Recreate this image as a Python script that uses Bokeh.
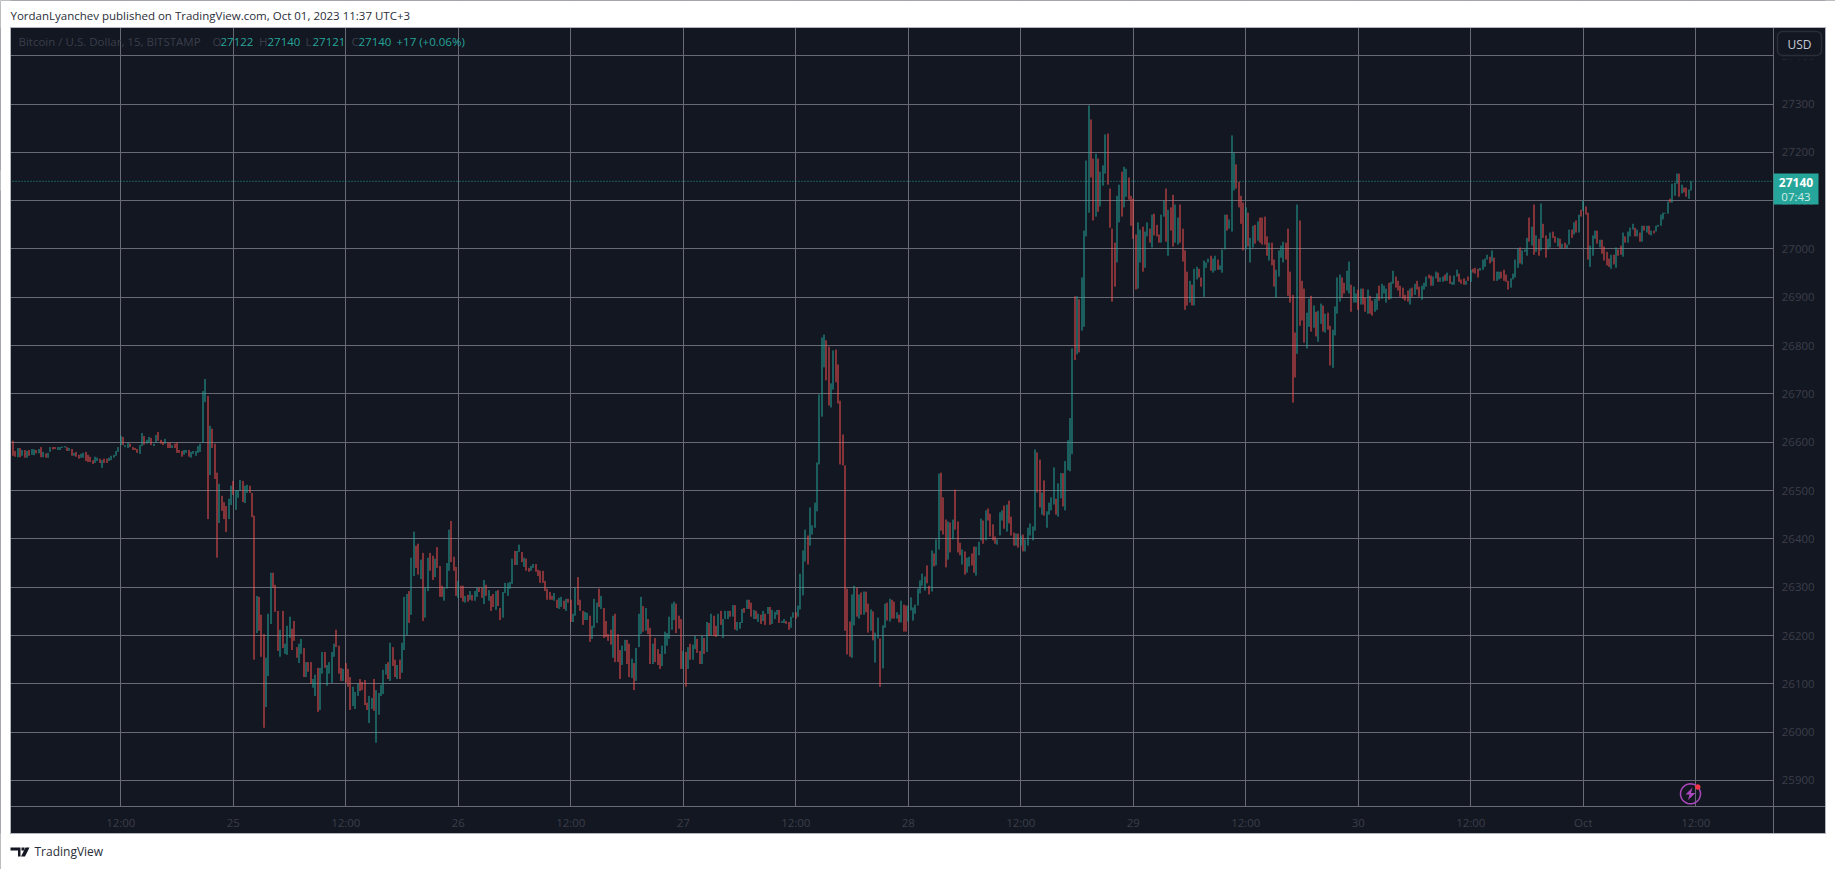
import numpy as np
from bokeh.embed import file_html
from bokeh.models import (BoxAnnotation, ColumnDataSource, FixedTicker, Label, LinearAxis,
                          PolyAnnotation, Range1d, Span)
from bokeh.plotting import figure
from bokeh.resources import INLINE

# Bitcoin / U.S. Dollar, 15 min, BITSTAMP
first_bar_hour = -23.5   # hours from 25 Sep 00:00
bar_hours = 0.25

highs = [
26603,26582,26588,26588,26584,26584,26582,26584,26586,26585,
26584,26586,26590,26580,26577,26578,26590,26590,26590,26590,
26590,26591,26592,26590,26588,26586,26578,26580,26574,26576,
26578,26580,26574,26570,26563,26570,26568,26566,26563,26566,
26566,26568,26572,26574,26582,26590,26613,26611,26594,26599,
26597,26590,26588,26586,26594,26619,26613,26605,26611,26609,
26597,26615,26621,26605,26601,26607,26599,26599,26594,26597,
26599,26584,26582,26584,26584,26584,26580,26582,26582,26592,
26597,26706,26731,26696,26634,26628,26597,26537,26514,26489,
26476,26468,26483,26510,26520,26501,26501,26522,26520,26510,
26512,26510,26495,26448,26282,26280,26243,26203,26154,26245,
26330,26330,26305,26251,26212,26251,26183,26220,26239,26214,
26230,26176,26183,26193,26174,26145,26145,26145,26110,26119,
26133,26133,26166,26166,26139,26145,26166,26183,26212,26179,
26133,26131,26143,26131,26114,26094,26083,26100,26110,26104,
26108,26061,26075,26071,26110,26087,26081,26098,26129,26141,
26145,26185,26176,26150,26139,26150,26185,26280,26286,26292,
26361,26415,26386,26390,26357,26371,26299,26361,26371,26365,
26359,26383,26344,26303,26299,26350,26419,26437,26363,26342,
26313,26303,26303,26282,26284,26292,26284,26292,26299,26299,
26299,26315,26305,26294,26282,26286,26292,26294,26257,26290,
26309,26309,26311,26359,26375,26375,26388,26373,26361,26359,
26340,26344,26348,26348,26336,26334,26334,26313,26297,26290,
26282,26288,26274,26278,26280,26272,26276,26276,26274,26245,
26299,26321,26274,26251,26249,26247,26241,26220,26276,26268,
26297,26282,26257,26230,26203,26212,26241,26245,26203,26170,
26179,26191,26191,26183,26152,26143,26174,26245,26280,26261,
26257,26234,26216,26183,26195,26172,26162,26179,26208,26205,
26239,26266,26270,26266,26241,26234,26168,26166,26176,26183,
26181,26199,26193,26168,26199,26195,26228,26226,26245,26241,
26220,26245,26251,26234,26251,26251,26251,26263,26263,26228,
26228,26255,26257,26274,26274,26268,26253,26251,26245,26243,
26251,26245,26259,26259,26253,26249,26253,26253,26230,26234,
26230,26228,26239,26248,26248,26262,26328,26376,26419,26407,
26465,26428,26475,26558,26699,26817,26823,26811,26798,26722,
26790,26792,26761,26686,26616,26552,26297,26229,26285,26303,
26299,26285,26289,26291,26291,26266,26254,26250,26206,26237,
26194,26221,26266,26268,26276,26274,26270,26248,26243,26272,
26264,26262,26262,26279,26258,26264,26297,26314,26328,26322,
26345,26303,26376,26370,26399,26535,26537,26486,26440,26436,
26434,26440,26502,26436,26392,26378,26374,26361,26363,26370,
26384,26384,26394,26442,26438,26459,26463,26452,26430,26405,
26399,26455,26459,26469,26471,26479,26446,26413,26411,26411,
26407,26409,26399,26423,26432,26426,26585,26579,26564,26496,
26521,26457,26475,26486,26548,26483,26515,26536,26536,26561,
26604,26650,26794,26902,26902,26896,26941,27038,27183,27297,
27268,27187,27197,27187,27160,27173,27237,27239,27125,27042,
27013,27110,27133,27160,27170,27166,27148,27110,27104,27030,
27055,27040,27046,27036,27055,27042,27071,27073,27050,27030,
27071,27100,27125,27081,27086,27112,27092,27065,27092,27042,
26997,26953,26934,26926,26959,26963,26959,26941,26976,26972,
26980,26986,26980,26986,26978,26966,26999,27071,27071,27061,
27235,27199,27175,27139,27110,27096,27086,27075,27023,27048,
27050,27057,27065,27065,27067,27026,27013,27013,26978,26957,
26997,27007,27015,27013,27042,26953,26905,26827,27092,27059,
26934,26918,26868,26897,26903,26883,26870,26872,26887,26883,
26866,26868,26841,26833,26881,26941,26947,26941,26930,26955,
26974,26926,26922,26908,26916,26918,26918,26899,26916,26903,
26893,26897,26908,26924,26928,26924,26918,26930,26932,26955,
26943,26934,26924,26920,26905,26914,26918,26920,26928,26934,
26922,26924,26930,26943,26947,26945,26943,26953,26951,26941,
26943,26947,26951,26945,26932,26945,26957,26949,26937,26939,
26934,26943,26957,26959,26961,26959,26961,26978,26980,26988,
26984,26997,26982,26953,26953,26953,26957,26947,26934,26939,
26949,26978,27001,27003,26997,26999,27023,27065,27046,27092,
27028,27021,27094,27052,27028,27021,27034,27036,27026,27023,
27021,27011,27013,27009,27040,27040,27055,27059,27071,27081,
27100,27088,27075,27007,27028,27038,27038,27019,27019,27005,
26994,26980,26988,26988,27003,26999,27007,27034,27026,27036,
27044,27052,27044,27040,27034,27048,27048,27048,27048,27038,
27038,27048,27050,27071,27075,27075,27098,27104,27135,27137,
27156,27156,27133,27127,27127,27123,27140,
]

lows = [
26572,26570,26569,26569,26572,26568,26568,26572,26574,26573,
26577,26577,26569,26569,26568,26568,26580,26585,26586,26584,
26584,26588,26589,26582,26582,26572,26572,26570,26566,26568,
26568,26561,26559,26559,26555,26557,26561,26557,26547,26557,
26557,26561,26563,26568,26572,26580,26594,26594,26590,26588,
26590,26584,26584,26578,26576,26592,26595,26597,26599,26594,
26592,26599,26603,26597,26594,26597,26588,26588,26588,26588,
26578,26578,26570,26574,26578,26570,26568,26576,26572,26578,
26580,26599,26683,26441,26532,26588,26524,26361,26433,26458,
26441,26414,26441,26470,26491,26460,26485,26501,26476,26474,
26495,26495,26445,26150,26205,26210,26156,26009,26052,26116,
26224,26299,26249,26168,26156,26174,26162,26160,26195,26170,
26189,26154,26143,26162,26114,26114,26125,26100,26092,26075,
26042,26046,26121,26133,26096,26121,26102,26156,26176,26121,
26106,26106,26102,26094,26046,26054,26048,26075,26085,26087,
26056,26046,26019,26048,26044,25978,26036,26075,26079,26119,
26110,26106,26137,26114,26110,26110,26123,26170,26201,26226,
26243,26323,26340,26326,26317,26230,26237,26292,26334,26315,
26321,26340,26280,26280,26272,26297,26334,26352,26334,26282,
26278,26278,26270,26268,26270,26274,26272,26272,26280,26290,
26278,26265,26282,26272,26251,26259,26253,26261,26232,26237,
26288,26282,26297,26307,26346,26346,26373,26352,26342,26334,
26332,26334,26340,26332,26323,26309,26309,26292,26274,26274,
26274,26272,26257,26255,26259,26255,26251,26268,26228,26228,
26241,26263,26251,26222,26232,26232,26187,26193,26216,26226,
26259,26255,26195,26197,26189,26181,26154,26145,26145,26110,
26139,26168,26141,26114,26112,26087,26106,26176,26203,26208,
26210,26203,26141,26141,26145,26139,26131,26137,26162,26179,
26193,26212,26232,26205,26214,26131,26131,26094,26131,26150,
26150,26172,26164,26141,26141,26162,26166,26199,26201,26199,
26197,26199,26222,26195,26234,26234,26239,26239,26212,26210,
26214,26226,26247,26255,26255,26239,26234,26234,26228,26224,
26230,26222,26245,26222,26224,26234,26243,26226,26226,26226,
26224,26212,26216,26237,26235,26239,26254,26283,26353,26347,
26386,26409,26423,26457,26554,26653,26755,26728,26676,26672,
26709,26724,26680,26554,26552,26210,26161,26156,26154,26221,
26239,26235,26243,26243,26248,26206,26210,26190,26144,26194,
26094,26132,26216,26231,26229,26235,26235,26235,26227,26227,
26208,26208,26229,26252,26231,26245,26262,26287,26303,26293,
26308,26285,26291,26343,26345,26378,26417,26409,26341,26357,
26372,26399,26419,26372,26366,26347,26326,26330,26343,26345,
26330,26324,26366,26397,26390,26397,26438,26405,26397,26390,
26388,26407,26438,26421,26415,26432,26407,26386,26386,26382,
26386,26374,26374,26386,26407,26397,26417,26496,26465,26450,
26448,26423,26450,26459,26471,26450,26446,26484,26467,26459,
26542,26540,26575,26770,26782,26786,26831,26839,27026,27075,
27148,27059,27067,27077,27088,27131,27156,27133,27044,26891,
26922,26972,27055,27067,27086,27108,27102,27048,27021,26916,
26918,26972,26953,26961,27026,27013,27003,27028,27026,27013,
27013,27067,27015,26986,27038,27005,27013,27009,27013,26974,
26874,26883,26889,26883,26883,26937,26941,26922,26901,26961,
26972,26955,26951,26955,26957,26957,26951,26999,27038,27042,
27036,27121,27125,27086,27052,26997,26999,27005,26972,27003,
27011,27017,27013,27009,27009,26986,26976,26966,26922,26899,
26943,26982,26972,26978,26903,26889,26682,26734,26783,26841,
26852,26806,26794,26839,26829,26837,26819,26808,26845,26829,
26827,26833,26759,26754,26821,26866,26891,26899,26908,26914,
26908,26870,26889,26889,26874,26885,26885,26870,26866,26866,
26862,26870,26874,26893,26897,26908,26889,26895,26897,26928,
26920,26914,26901,26897,26893,26891,26885,26901,26905,26916,
26901,26895,26916,26922,26939,26924,26924,26939,26932,26932,
26932,26934,26934,26928,26926,26926,26943,26932,26928,26926,
26926,26934,26932,26951,26949,26941,26955,26957,26963,26978,
26970,26974,26934,26934,26937,26939,26934,26932,26916,26920,
26937,26941,26961,26970,26968,26994,26986,27015,27007,26988,
26994,26986,26997,27023,26982,26999,27003,27023,27013,27005,
27001,27001,27001,27001,27009,27023,27030,27034,27034,27067,
27079,27071,26978,26963,26986,27021,27011,27003,26990,26976,
26966,26963,26959,26968,26961,26986,26988,26984,27013,27013,
27026,27040,27026,27026,27015,27015,27038,27034,27030,27028,
27032,27036,27046,27048,27061,27073,27073,27096,27096,27110,
27135,27108,27115,27117,27108,27104,27121,
]

# R = down bar, G = up bar
bar_dir = (
"RRGRGRGRGG" "RGRGRGGRRG" "GGGRGRGRRG" "GRRRRGGRGR" "RGGGGGGRGG"
"RRRRGGRGGR" "GGRRRGRRGR" "RRRGGRGGGG" "GGGRGRRRGR" "RRGGRGGGRG"
"GRRRGRRRGG" "GRRRGRGGGR" "RRGGRGRRGG" "RGGRGGGGRR" "RGRRRGGGRR"
"RRGGRGGGGG" "RGRRGRGGGR" "GGRRGRGGRR" "GRRRGGGRRR" "GRRGRGRGGR"
"RGRGRRGRRG" "GGGGRGGRGR" "RGGRRRRRRR" "RGRGGRGRRG" "GRRRGGRGGG"
"RGRRRRGRRR" "GGRRGRGGGR" "GRRGRRRGGG" "GGGRRRGRGR" "GGRRGRGRGR"
"RGRGGGRGRG" "GGRGRRGRGR" "GRGRGGGRGG" "RRGGRGGGGR" "GGGGGGGRRG"
"GRRRRRRRGG" "RGRGRRGRGG" "RGGRGRRGRG" "RRGGGGGGGG" "RRGRGGRRRG"
"RGRRRGRGGR" "RGGGRGRRRR" "GGGRGRRRGR" "GRGGGGGRRG" "RGGGGRGGRG"
"GGGRGRGGGG" "RRGRGGGRRR" "RGGRGGRRRR" "GGRGGRGRRR" "GGRGRRGGRR"
"RRGRGGRRGG" "GRGGRGGGRG" "GGRRRRGRGG" "RGRRRRGRRG" "GGGRRRRRGR"
"RRGGRGRGGR" "GRRGGGGRRG" "GRGGRGRRGR" "RGGRGGGRGG" "RRRRRRGRGR"
"RGGGRRGGRG" "GRGRGGGRRR" "GRGRRRGGGG" "RGRGGRRRRG" "GGGRGGGRGR"
"GRGRRGGRRG" "RGRGGRGRGR" "GRRGGGRGRR" "RRGRGRRGRG" "GGRGRGRGRG"
"RGGGGGGRGG" "GRGRRGG"
)

day_ticks = [-12, 0, 12, 24, 36, 48, 60, 72, 84, 96, 108, 120, 132, 144, 156]
day_labels = ["12:00", "25", "12:00", "26", "12:00", "27", "12:00", "28", "12:00",
              "29", "12:00", "30", "12:00", "Oct", "12:00"]
price_ticks = [25900, 26000, 26100, 26200, 26300, 26400, 26500, 26600, 26700, 26800,
               26900, 27000, 27100, 27200, 27300, 27400]
last_price = 27140
legend_open, legend_high, legend_low, legend_close = "27122", "27140", "27121", "27140"

UP, DOWN = "#26a69a", "#f6504e"
BG, GRID, DIM = "#131722", "#696a75", "#3b3e49"
FONT = "Open Sans"
W, H = 1835, 869
PX_PER_HOUR = 9.375


def hour_at(px):
    return (px - 232.8) / PX_PER_HOUR


def price_at(py):
    return 27300 + (103.5 - py) / 0.4832


def snapped(h):
    """Place a bar on a whole pixel column so that it stays a crisp 1px line."""
    return float(hour_at(np.floor(232.8 + h * PX_PER_HOUR) + 0.5))


n = len(highs)
hours = [snapped(first_bar_hour + bar_hours * i) for i in range(n)]
source = ColumnDataSource(dict(x=hours, low=lows, high=highs,
                               color=[UP if d == "G" else DOWN for d in bar_dir[:n]]))

# The frame fills the whole page area, so every decoration can sit inside it.
p = figure(width=W, height=H, output_backend="svg", toolbar_location=None,
           x_range=Range1d(hour_at(0), hour_at(W)), y_range=Range1d(price_at(H), price_at(0)),
           x_axis_location=None, y_axis_location=None,
           min_border=0, background_fill_color=BG, border_fill_color="white",
           outline_line_color=None)

p.xgrid.ticker = FixedTicker(ticks=day_ticks)
p.ygrid.ticker = FixedTicker(ticks=price_ticks)
for g in (p.xgrid[0], p.ygrid[0]):
    g.grid_line_color = GRID
    g.grid_line_width = 1


def box(l, t, r, b, fill=None, line=None, level="underlay", lw=1, radius=0):
    p.add_layout(BoxAnnotation(left=l, right=r, top=t, bottom=b,
                               left_units="canvas", right_units="canvas",
                               top_units="canvas", bottom_units="canvas",
                               fill_color=fill, fill_alpha=1 if fill else 0,
                               line_color=line, line_alpha=1 if line else 0, line_width=lw,
                               level=level, border_radius=radius, editable=False))


def poly(xs, ys, fill=None, line=None, lw=1):
    p.add_layout(PolyAnnotation(xs=list(xs), ys=list(ys),
                                xs_units="canvas", ys_units="canvas",
                                fill_color=fill, fill_alpha=1 if fill else 0,
                                line_color=line, line_alpha=1 if line else 0, line_width=lw,
                                level="overlay", editable=False))


def text(x, y, s, color, size="11.5px", align="left", style="normal"):
    p.add_layout(Label(x=x, y=y, x_units="canvas", y_units="canvas", text=s,
                       text_color=color, text_font=FONT, text_font_size=size,
                       text_align=align, text_baseline="middle", text_font_style=style,
                       level="overlay"))


# hide the grid outside the chart: white page around it, clean dark scale strips
box(0, 0, 10, H, fill="white")
box(1825, 0, W, H, fill="white")
box(0, 0, W, 27, fill="white")
box(0, 833, W, H, fill="white")
box(1773, 27, 1825, 833, fill=BG)
box(10, 806, 1773, 833, fill=BG)

p.add_layout(Span(location=last_price, dimension="width", line_color=UP, line_width=1,
                  line_dash=[1, 2], level="underlay"))
box(0, 170, 10, 190, fill="white")
box(1818, 170, 1825, 190, fill=BG)
box(1825, 170, W, 190, fill="white")

p.segment(x0="x", y0="low", x1="x", y1="high", color="color", line_width=1, source=source)

xaxis = LinearAxis(ticker=FixedTicker(ticks=day_ticks), fixed_location=price_at(806.3),
                   bounds=(hour_at(10), hour_at(1825)),
                   major_label_overrides=dict(zip(day_ticks, day_labels)))
yaxis = LinearAxis(ticker=FixedTicker(ticks=price_ticks), fixed_location=hour_at(1773.3),
                   bounds=(price_at(833), price_at(27)))
p.add_layout(xaxis, "below")
p.add_layout(yaxis, "right")
for ax in (xaxis, yaxis):
    ax.axis_line_color = GRID
    ax.axis_line_width = 1
    ax.major_tick_line_color = None
    ax.minor_tick_line_color = None
    ax.major_tick_out = 0
    ax.major_tick_in = 0
    ax.major_label_text_color = DIM
    ax.major_label_text_font = FONT
    ax.major_label_text_font_size = "11.5px"
xaxis.major_label_standoff = 8
yaxis.major_label_standoff = 8
yaxis.formatter.use_scientific = False

# scale button covers the top of the price scale
box(1774, 28, 1824, 59, fill=BG, level="overlay")
box(1777, 31, 1821, 55, fill=BG, line="#2a2e39", level="overlay", lw=1.5, radius=5)
box(10, 27, 1825, 833, line="#b2b5be", level="overlay", lw=1)
text(1799, 43.5, "USD", "#c8cbd4", "12px", "center")

# last price tag
box(1773, 173, 1818, 204, fill=UP, level="overlay")
text(1795.5, 181.5, str(last_price), "#ffffff", "12px", "center", "bold")
text(1795.5, 195.5, "07:43", "#d0ebe8", "11.5px", "center")

# legend line
text(18, 41, "Bitcoin / U.S. Dollar, 15, BITSTAMP", "#3a3e4a")
for x, s in ((212, "O"), (258.5, "H"), (305, "L"), (351, "C")):
    text(x, 41, s, "#3a3e4a")
for x, s in ((220, legend_open), (267, legend_high), (312, legend_low), (358, legend_close)):
    text(x, 41, s, UP)
text(396, 41, "+17 (+0.06%)", UP)

# header and footer
text(10, 15, "YordanLyanchev published on TradingView.com, Oct 01, 2023 11:37 UTC+3", "#2a2e39", "11.5px")
text(34, 851, "TradingView", "#2a2e39", "12px")
poly([10, 20, 20, 17.5, 17.5, 14.5, 14.5, 10], [847, 847, 856, 856, 850, 850, 850, 850], fill="#131722")
poly([21, 24, 24, 21], [847, 847, 850, 850], fill="#131722")
poly([25, 29, 24.5, 20.5], [847, 847, 856, 856], fill="#131722")

# lightning badge
ang = np.linspace(0, 2 * np.pi, 49)
poly((1690 + 10 * np.cos(ang)).tolist(), (793.3 + 10 * np.sin(ang)).tolist(), line="#ab47bc", lw=1.5)
poly([1692, 1685, 1689, 1687.5, 1695, 1690.5], [787, 794, 794, 799.5, 792.5, 792.5], fill="#ab47bc")
poly((1697.3 + 2.7 * np.cos(ang)).tolist(), (786.5 + 2.7 * np.sin(ang)).tolist(), fill="#f23645")

open("out.html", "w").write(file_html(p, INLINE))
